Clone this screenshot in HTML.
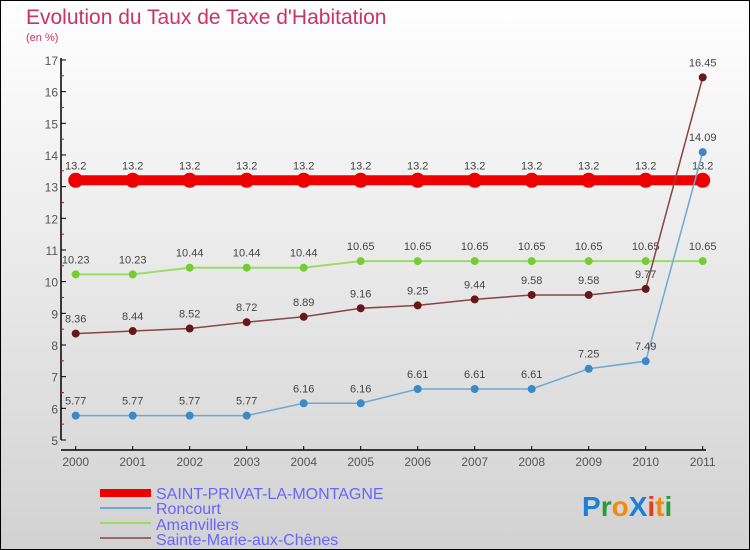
<!DOCTYPE html>
<html><head><meta charset="utf-8"><style>
body{margin:0}
#c{width:750px;height:550px;position:relative;overflow:hidden;font-family:"Liberation Sans",sans-serif}
</style></head><body>
<div id="c">
<svg id="s" width="750" height="550" xmlns="http://www.w3.org/2000/svg">
<defs><linearGradient id="bg" x1="0" y1="0" x2="0" y2="1"><stop offset="0" stop-color="#ffffff"/><stop offset="1" stop-color="#d2d2d2"/></linearGradient></defs>
<rect x="0.5" y="0.5" width="749" height="549" fill="url(#bg)" stroke="#000"/>
<text x="26" y="24" font-size="21" fill="#c8336a" font-weight="normal">Evolution du Taux de Taxe d'Habitation</text>
<text x="26" y="41" font-size="11" fill="#c8336a">(en %)</text>
<g id="axes"></g><g id="series"></g>
<g>
<rect x="100" y="489" width="51" height="8" fill="#ee0000"/>
<text x="156" y="499" font-size="16" fill="#6666ff">SAINT-PRIVAT-LA-MONTAGNE</text>
<rect x="100" y="507" width="51" height="2" fill="#6fa8d0"/>
<text x="156" y="514" font-size="16" fill="#6666ff">Roncourt</text>
<rect x="100" y="522" width="51" height="2" fill="#99dd66"/>
<text x="156" y="530" font-size="16" fill="#6666ff">Amanvillers</text>
<rect x="100" y="537" width="51" height="2" fill="#996666"/>
<text x="156" y="545" font-size="16" fill="#6666ff">Sainte-Marie-aux-Chênes</text>
</g>
<text x="582" y="516" font-size="28" font-weight="bold"><tspan fill="#1e7fd6">P</tspan><tspan fill="#2a9a3a">r</tspan><tspan fill="#f08a10">o</tspan><tspan fill="#1e7fd6">X</tspan><tspan fill="#e83a1a">i</tspan><tspan fill="#f08a10">t</tspan><tspan fill="#2a9a3a">i</tspan></text>
</svg></div>
<script>
const years=["2000","2001","2002","2003","2004","2005","2006","2007","2008","2009","2010","2011"];
const yTicks=[5,6,7,8,9,10,11,12,13,14,15,16,17];
const saintPrivat=[13.2,13.2,13.2,13.2,13.2,13.2,13.2,13.2,13.2,13.2,13.2,13.2];
const roncourt=[5.77,5.77,5.77,5.77,6.16,6.16,6.61,6.61,6.61,7.25,7.49,14.09];
const amanvillers=[10.23,10.23,10.44,10.44,10.44,10.65,10.65,10.65,10.65,10.65,10.65,10.65];
const sainteMarie=[8.36,8.44,8.52,8.72,8.89,9.16,9.25,9.44,9.58,9.58,9.77,16.45];
const NS="http://www.w3.org/2000/svg";
const xs=i=>75.7+i*57;
const ys=v=>440-(v-5)*31.67;
function mk(t,a,p){const e=document.createElementNS(NS,t);for(const k in a)e.setAttribute(k,a[k]);p.appendChild(e);return e;}
const ax=document.getElementById('axes');
let yl=mk('line',{x1:61,y1:58,x2:61,y2:440,stroke:'#000','stroke-width':1.5},ax);


yTicks.forEach(v=>{
  let t=mk('line',{x1:61,y1:ys(v),x2:66,y2:ys(v),stroke:'#000'},ax);
  
  
  if(v<17){let h=mk('line',{x1:61,y1:ys(v+0.5),x2:64,y2:ys(v+0.5),stroke:'#e00'},ax);
  
  }
  let l=mk('text',{x:58,y:ys(v)+5,'font-size':12,fill:'#555','text-anchor':'end'},ax);l.textContent=v;
  
  
});
let xl=mk('line',{x1:61,y1:450,x2:706,y2:450,stroke:'#000','stroke-width':1.5},ax);


years.forEach((y,i)=>{
  let t=mk('line',{x1:xs(i),y1:446,x2:xs(i),y2:450,stroke:'#000'},ax);
  
  
  let l=mk('text',{x:xs(i),y:466,'font-size':12,fill:'#555','text-anchor':'middle'},ax);l.textContent=y;
  
  
});
const sg=document.getElementById('series');
function series(vals,name,color,dot,w,r){
  const g=mk('g',{},sg);
  
  
  const pl=mk('polyline',{points:vals.map((v,i)=>xs(i)+','+ys(v)).join(' '),fill:'none',stroke:color,'stroke-width':w},g);
  
  
  vals.forEach((v,i)=>{
    const c=mk('circle',{cx:xs(i),cy:ys(v),r:r,fill:dot},g);
    
    
    const t=mk('text',{x:xs(i),y:ys(v)-11,'font-size':11,fill:'#444','text-anchor':'middle'},g);t.textContent=String(v);
    
    
  });
}
series(saintPrivat,'saint-privat','#ee0000','#ee0000',10,7.5);
series(amanvillers,'amanvillers','#99dd66','#77cc33',2,4);
series(sainteMarie,'sainte-marie','#884444','#661818',1.5,4);
series(roncourt,'roncourt','#6fa8d0','#3a8ac8',1.5,4);
</script>
</body></html>
